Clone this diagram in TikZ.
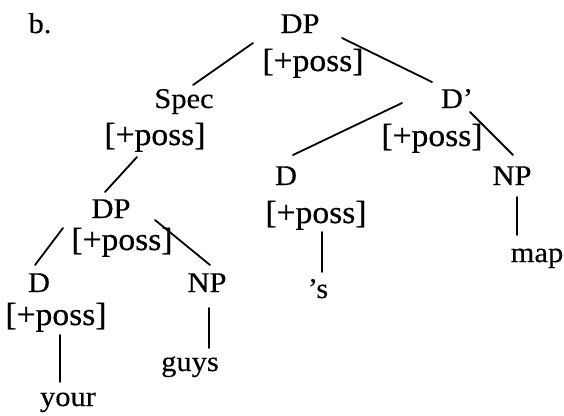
\documentclass[tikz,border=0pt]{standalone}
\usepackage{fontspec}
\setmainfont{Liberation Serif}[FakeStretch=1.07]
\newfontfamily\labelfont{Liberation Serif}[FakeStretch=1.07,FakeBold=0.3]
\newfontfamily\featfont{Liberation Serif}[FakeStretch=1.05,FakeBold=0.6]
\begin{document}
\begin{tikzpicture}[x=1pt,y=-1pt,
  lbl/.style={anchor=base,inner sep=0pt,font=\labelfont\fontsize{28.5}{30}\selectfont},
  feat/.style={anchor=base,inner sep=0pt,font=\featfont\fontsize{32}{34}\selectfont},
  branch/.style={line width=1.8pt,line cap=round}]
\useasboundingbox (0,0) rectangle (564,415);

% labels
\node[lbl] (b) at (40,33) {b.};
\node[lbl] (dp0) at (300,33) {DP};
\node[feat] (f0) at (313,71) {[+poss]};
\node[lbl] (spec) at (184,108) {Spec};
\node[feat] (fspec) at (155,145) {[+poss]};
\node[lbl] (dbar) at (457,108) {D’};
\node[feat] (fdbar) at (432,146) {[+poss]};
\node[lbl] (dm) at (286,185) {D};
\node[lbl] (npr) at (512,185) {NP};
\node[feat] (fdm) at (316,223) {[+poss]};
\node[lbl] (s) at (318,298) {’s};
\node[lbl] (map) at (537,262) {map};
\node[lbl] (dp1) at (111,218) {DP};
\node[feat] (fdp1) at (122,250) {[+poss]};
\node[lbl] (dl) at (39,292) {D};
\node[lbl] (npl) at (207,292) {NP};
\node[feat] (fdl) at (56,325) {[+poss]};
\node[lbl] (your) at (68,406) {your};
\node[lbl] (guys) at (190,371) {guys};

% branch end points
\coordinate (a1) at (253,43);  \coordinate (a2) at (193,85);
\coordinate (b1) at (342,38);  \coordinate (b2) at (432,82);
\coordinate (c1) at (137,157); \coordinate (c2) at (105,192);
\coordinate (d1) at (402,103); \coordinate (d2) at (293,155);
\coordinate (e1) at (470,112); \coordinate (e2) at (513,155);
\coordinate (g1) at (322,232); \coordinate (g2) at (322,272);
\coordinate (h1) at (517,197); \coordinate (h2) at (517,235);
\coordinate (i1) at (63,228);  \coordinate (i2) at (35,265);
\coordinate (j1) at (155,220); \coordinate (j2) at (210,265);
\coordinate (k1) at (60,335);  \coordinate (k2) at (60,382);
\coordinate (l1) at (209,308); \coordinate (l2) at (209,348);

% branches
\foreach \p in {a,b,c,d,e,g,h,i,j,k,l}
  \draw[branch] (\p1) -- (\p2);
\end{tikzpicture}
\end{document}
